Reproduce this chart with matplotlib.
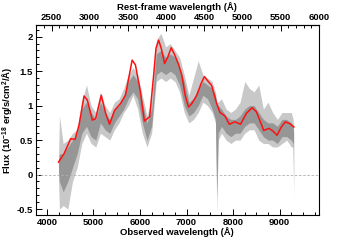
import matplotlib
matplotlib.use("Agg")
import matplotlib.pyplot as plt
from matplotlib.ticker import MultipleLocator

plt.rcParams['font.family'] = ['Liberation Sans', 'DejaVu Sans']
plt.rcParams['font.weight'] = 'bold'
plt.rcParams['mathtext.fontset'] = 'custom'
plt.rcParams['mathtext.rm'] = 'Liberation Sans:bold'
plt.rcParams['mathtext.bf'] = 'Liberation Sans:bold'
plt.rcParams['mathtext.default'] = 'bf'

# ---- data ----
z = 0.64

# smoothed model (red)
model_wave = [4249, 4370, 4513, 4605, 4691, 4798, 4869, 4976, 5047, 5168, 5261, 5346,
              5453, 5581, 5688, 5831, 5902, 6009, 6094, 6208, 6293, 6343, 6400, 6457,
              6528, 6600, 6671, 6742, 6828, 6899, 6970, 7041, 7113, 7219, 7312, 7383,
              7454, 7540, 7647, 7718, 7825, 7917, 8038, 8160, 8288, 8409, 8501, 8658,
              8772, 8858, 8943, 9036, 9121, 9214, 9306]
model_flux = [0.18, 0.305, 0.52, 0.51, 0.72, 1.14, 1.08, 0.79, 0.81, 1.15, 0.89, 0.73,
              0.93, 1.03, 1.15, 1.66, 1.59, 1.20, 0.775, 0.84, 1.44, 1.83, 1.95, 1.83,
              1.61, 1.71, 1.84, 1.74, 1.60, 1.44, 1.15, 0.98, 1.03, 1.15, 1.32, 1.42,
              1.36, 1.29, 1.03, 0.90, 0.85, 0.73, 0.765, 0.73, 0.89, 0.97, 0.91, 0.64,
              0.67, 0.63, 0.57, 0.69, 0.765, 0.74, 0.69]

# observed spectrum (gray), envelopes
spec_wave = [4250, 4270, 4350, 4450, 4550, 4650, 4750, 4850, 4950, 5050, 5150, 5250, 5350,
             5450, 5550, 5650, 5750, 5850, 5950, 6050, 6150, 6250, 6350, 6450, 6550,
             6650, 6750, 6850, 6950, 7050, 7150, 7250, 7350, 7450, 7550, 7620, 7650, 7680, 7750,
             7850, 7950, 8050, 8150, 8250, 8350, 8450, 8550, 8650, 8750, 8850, 8950,
             9050, 9150, 9250, 9290, 9300]
core_lo = [0.05, -0.1, -0.25, -0.1, 0.1, 0.3, 0.6, 0.7, 0.55, 0.5, 0.75, 0.65, 0.6,
           0.75, 0.85, 0.95, 1.1, 1.2, 1.1, 0.75, 0.5, 0.7, 1.45, 1.5, 1.45,
           1.5, 1.45, 1.3, 1.0, 0.85, 0.9, 1.0, 1.15, 1.1, 0.95, 0.8, -0.3, 0.6, 0.7,
           0.6, 0.55, 0.6, 0.6, 0.7, 0.75, 0.75, 0.65, 0.55, 0.5, 0.5, 0.45,
           0.55, 0.55, 0.5, 0.45, -0.2]
core_hi = [0.2, 0.3, 0.3, 0.4, 0.5, 0.6, 0.95, 1.05, 0.9, 0.8, 1.05, 0.9, 0.8,
           0.95, 1.0, 1.15, 1.35, 1.45, 1.35, 1.05, 0.75, 0.95, 1.75, 1.8, 1.7,
           1.75, 1.7, 1.55, 1.35, 1.05, 1.1, 1.25, 1.35, 1.3, 1.25, 1.15, 1.0, 1.0, 0.95,
           0.85, 0.8, 0.8, 0.85, 0.95, 1.0, 1.0, 0.9, 0.8, 0.75, 0.75, 0.7,
           0.8, 0.8, 0.75, 0.7, 0.6]
outer_lo = [-0.1, -0.5, -0.45, -0.5, -0.1, 0.1, 0.45, 0.6, 0.45, 0.4, 0.6, 0.55, 0.5,
            0.65, 0.75, 0.9, 1.0, 1.15, 0.95, 0.6, 0.4, 0.6, 1.35, 1.4, 1.35,
            1.4, 1.35, 1.2, 0.9, 0.75, 0.8, 0.9, 1.05, 1.0, 0.9, 0.75, -0.55, 0.5, 0.6,
            0.5, 0.45, 0.5, 0.5, 0.6, 0.65, 0.65, 0.5, 0.45, 0.45, 0.4, 0.4,
            0.45, 0.5, 0.4, 0.4, -0.35]
outer_hi = [0.25, 0.85, 0.45, 0.5, 0.6, 0.65, 1.05, 1.3, 1.0, 0.9, 1.2, 1.0, 0.9,
            1.05, 1.1, 1.25, 1.45, 1.55, 1.45, 1.15, 0.85, 1.1, 1.95, 2.05, 1.85,
            1.9, 1.8, 1.7, 1.45, 1.15, 1.4, 1.65, 1.45, 1.4, 1.35, 1.2, 1.05, 1.05, 1.1,
            0.95, 0.9, 0.95, 1.05, 1.35, 1.25, 1.2, 1.3, 0.95, 1.05, 0.9, 0.8,
            0.9, 0.9, 0.9, 0.8, 0.65]

rest_ticks = [2500, 3000, 3500, 4000, 4500, 5000, 5500, 6000]
obs_ticks = [4000, 5000, 6000, 7000, 8000, 9000]
y_ticks = [-0.5, 0, 0.5, 1, 1.5, 2]

# ---- figure ----
fig = plt.figure(figsize=(3.55, 2.40), dpi=100)
ax = fig.add_axes([0.1006, 0.104, 0.798, 0.792])

ax.fill_between(spec_wave, outer_lo, outer_hi, color='#c8c8c8', lw=0)
ax.fill_between(spec_wave, core_lo, core_hi, color='#969696', lw=0)
ax.axhline(0, color='#b0b0b0', lw=0.6, ls=(0, (3, 2)))
ax.plot(model_wave, model_flux, color='#ff1010', lw=1.1)

ax.set_xlim(3760, 9845)
ax.set_ylim(-0.587, 2.17)

fs = 6.8
ax.set_xticks(obs_ticks)
ax.set_xticklabels([str(t) for t in obs_ticks], fontsize=fs, fontweight='bold')
ax.xaxis.set_minor_locator(MultipleLocator(250))
ax.set_yticks(y_ticks)
ax.set_yticklabels(['-0.5', '0', '0.5', '1', '1.5', '2'], fontsize=fs, fontweight='bold')
ax.yaxis.set_minor_locator(MultipleLocator(0.1))
ax.tick_params(which='both', direction='in', top=False, right=False, width=0.7, pad=2)
ax.tick_params(which='major', length=4.3)
ax.tick_params(which='minor', length=2.2)
for s in ax.spines.values():
    s.set_linewidth(0.8)

ax.set_xlabel('Observed wavelength (Å)', fontsize=fs, fontweight='bold', labelpad=0.5)
ax.set_ylabel('Flux (10$^{-18}$ erg/s/cm$^{2}$/Å)', fontsize=fs, fontweight='bold', labelpad=1)

sec = ax.secondary_xaxis('top', functions=(lambda x: x / (1 + z), lambda x: x * (1 + z)))
sec.set_xticks(rest_ticks)
sec.set_xticklabels([str(t) for t in rest_ticks], fontsize=fs, fontweight='bold')
sec.xaxis.set_minor_locator(MultipleLocator(100))
sec.tick_params(which='both', direction='in', width=0.7, pad=2)
sec.tick_params(which='major', length=4.3)
sec.tick_params(which='minor', length=2.2)
sec.set_xlabel('Rest-frame wavelength (Å)', fontsize=fs, fontweight='bold', labelpad=2)

fig.savefig('out.png', dpi=100)
